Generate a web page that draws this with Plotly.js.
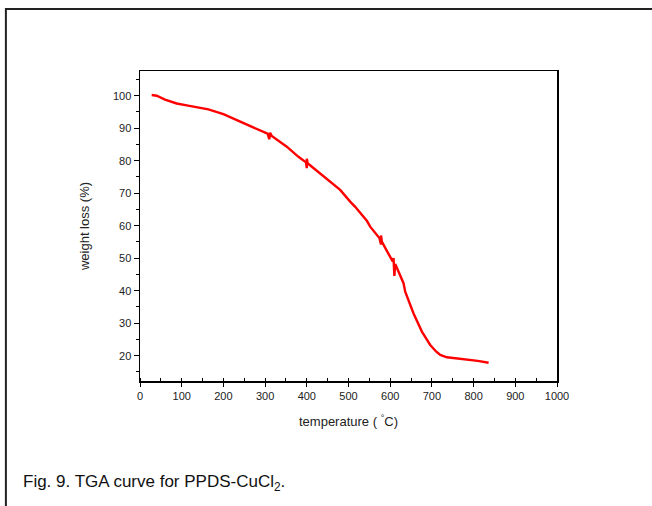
<!DOCTYPE html>
<html>
<head>
<meta charset="utf-8">
<script src="https://cdn.plot.ly/plotly-3.0.1.min.js"></script>
<style>html,body{margin:0;padding:0;background:#fff;}#chart{width:652px;height:506px;}</style>
</head>
<body>
<div id="chart"></div>
<script>
// TGA curve: temperature (°C) vs weight (%)
const temperature = [28, 40, 60, 88, 112, 144, 164, 200, 240, 270, 300, 306, 310, 312, 316, 336, 352, 380, 398, 400, 400, 402, 420, 450, 480, 504, 516, 544, 552, 574, 578, 578, 580, 590, 606, 608, 610, 612, 620, 632, 636, 656, 676, 696, 710, 720, 736, 760, 784, 810, 836];
const weight = [100.2, 100.0, 98.8, 97.6, 97.0, 96.4, 95.8, 94.3, 92.0, 90.3, 88.6, 88.3, 86.6, 88.6, 87.6, 85.8, 84.3, 81.2, 79.5, 77.7, 80.6, 79.2, 77.3, 74.3, 71.0, 67.4, 65.8, 61.5, 59.7, 56.2, 54.2, 57.0, 55.1, 52.7, 49.0, 50.0, 44.5, 48.2, 45.8, 42.3, 39.7, 33.0, 27.4, 23.3, 21.3, 20.2, 19.5, 19.2, 18.9, 18.4, 17.8];
const xTickVals = [0, 100, 200, 300, 400, 500, 600, 700, 800, 900, 1000];
const yTickVals = [20, 30, 40, 50, 60, 70, 80, 90, 100];
const xTitle = "temperature ( <sup>°</sup>C)";
const yTitle = "weight loss (%)";
const caption = "Fig. 9. TGA curve for PPDS-CuCl<sub>2</sub>.";

const FONT = "Arial, 'Liberation Sans', sans-serif";

const trace = {
  x: temperature,
  y: weight,
  type: "scatter",
  mode: "lines",
  line: {color: "#ff0000", width: 2.4},
  hoverinfo: "skip"
};

const layout = {
  width: 652,
  height: 506,
  margin: {l: 140, r: 95, t: 71, b: 125},
  paper_bgcolor: "#ffffff",
  plot_bgcolor: "#ffffff",
  showlegend: false,
  font: {family: FONT, color: "#222"},
  xaxis: {
    range: [0, 1000],
    tickvals: xTickVals,
    ticks: "outside",
    ticklen: 4,
    tickwidth: 1,
    tickcolor: "#000",
    showline: true,
    linecolor: "#000",
    linewidth: 1.5,
    mirror: true,
    showgrid: false,
    zeroline: false,
    tickfont: {size: 11, family: FONT, color: "#222"},
    minor: {dtick: 50, tick0: 0, ticks: "inside", ticklen: 3, tickcolor: "#000", showgrid: false},
    title: {text: xTitle, font: {size: 13, family: FONT, color: "#222"}, standoff: 16}
  },
  yaxis: {
    range: [12.2, 107.6],
    tickvals: yTickVals,
    ticks: "outside",
    ticklen: 5,
    tickwidth: 1,
    tickcolor: "#000",
    showline: true,
    linecolor: "#000",
    linewidth: 1.5,
    mirror: true,
    showgrid: false,
    zeroline: false,
    tickfont: {size: 11, family: FONT, color: "#222"},
    minor: {dtick: 5, tick0: 0, ticks: "outside", ticklen: 3, tickcolor: "#000", showgrid: false},
    title: {text: yTitle, font: {size: 13, family: FONT, color: "#222"}, standoff: 20}
  },
  shapes: [{
    type: "rect", xref: "paper", yref: "paper",
    x0: -0.3216, x1: 1.26, y0: -0.45, y1: 1.2,
    line: {color: "#222", width: 2}, fillcolor: "rgba(0,0,0,0)", layer: "below"
  }],
  annotations: [{
    text: caption, xref: "paper", yref: "paper",
    x: -0.286, y: -0.329, xanchor: "left", yanchor: "middle",
    showarrow: false, font: {size: 17, family: FONT, color: "#111"}
  }]
};

Plotly.newPlot("chart", [trace], layout, {staticPlot: true, displayModeBar: false});
</script>
</body>
</html>
